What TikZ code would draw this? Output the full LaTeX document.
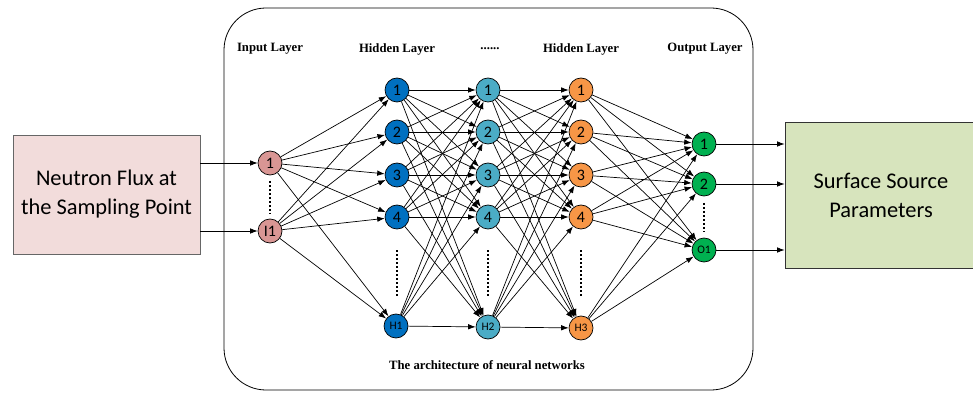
\documentclass[tikz,border=0pt]{standalone}
\usepackage{fontspec}
\setmainfont{Carlito}
\newfontfamily\labfont{Liberation Serif}
\usetikzlibrary{arrows.meta}
\definecolor{cin}{HTML}{D99694}
\definecolor{ch1}{HTML}{0070C0}
\definecolor{ch2}{HTML}{4BACC6}
\definecolor{ch3}{HTML}{F79646}
\definecolor{cout}{HTML}{00B050}
\definecolor{lbox}{HTML}{F2DCDB}
\definecolor{rbox}{HTML}{D7E4BD}
\tikzset{
  neuron/.style={circle,draw=black,line width=0.7pt,minimum size=24pt,inner sep=0pt,font=\fontsize{16}{16}\selectfont},
  smallneuron/.style={neuron,font=\fontsize{11.5}{12}\selectfont},
  conn/.style={-{Latex[length=7.5pt,width=5.5pt]},line width=0.7pt},
  layerlab/.style={font=\labfont\bfseries\fontsize{12.7}{14}\selectfont},
  vdots/.style={line width=1.6pt,dash pattern=on 1.6pt off 2.4pt}
}
\begin{document}
\begin{tikzpicture}[x=1pt,y=-1pt]
\useasboundingbox (0,0) rectangle (973,395);
% container
\draw[line width=0.8pt,rounded corners=42pt] (224,8) rectangle (753,390);
% side boxes
\node[draw=black!60,fill=lbox,line width=0.8pt,minimum width=187pt,minimum height=119pt,inner sep=0pt,align=center,font=\fontsize{22.4}{29}\selectfont] (src) at (106.5,194.5) {Neutron Flux at\\the Sampling Point};
\node[draw=black!80,fill=rbox,line width=0.8pt,minimum width=192pt,minimum height=146pt,inner sep=0pt,align=center,font=\fontsize{22.4}{29}\selectfont] (dst) at (881,195) {Surface Source\\Parameters};
% labels
\node[layerlab] (l1) at (270,49) {Input Layer};
\node[layerlab] (l2) at (397,49) {Hidden Layer};
\node[layerlab] (l3) at (490,49) {......};
\node[layerlab] (l4) at (581,49) {Hidden Layer};
\node[layerlab] (l5) at (705,49) {Output Layer};
\node[layerlab] (cap) at (487,365) {The architecture of neural networks};
% input
\node[neuron,fill=cin] (i1) at (270,163) {1};
\node[neuron,fill=cin] (iN) at (270,231) {I1};
% hidden 1
\foreach \n/\y in {1/90,2/132,3/175,4/217}{
  \node[neuron,fill=ch1] (a\n) at (397,\y) {\n};
  \node[neuron,fill=ch2] (b\n) at (488,\y) {\n};
  \node[neuron,fill=ch3] (c\n) at (581,\y) {\n};
}
\node[smallneuron,fill=ch1] (a5) at (396,326) {H1};
\node[smallneuron,fill=ch2] (b5) at (488,327) {H2};
\node[smallneuron,fill=ch3] (c5) at (581,328) {H3};
% output
\node[neuron,fill=cout] (o1) at (704,144) {1};
\node[neuron,fill=cout] (o2) at (704,184) {2};
\node[smallneuron,fill=cout] (o3) at (704,250) {O1};
% dots
\coordinate (d0a) at (270,181); \coordinate (d0b) at (270,214);
\draw[vdots] (d0a) -- (d0b);
\foreach \x/\nm in {397/p,488/q,581/r}{
  \coordinate (\nm a) at (\x,250); \coordinate (\nm b) at (\x,296);
  \draw[vdots] (\nm a) -- (\nm b);
}
\coordinate (doa) at (704,203); \coordinate (dob) at (704,232);
\draw[vdots] (doa) -- (dob);
% source arrows
\coordinate (s1) at (src.east |- i1);
\coordinate (s2) at (src.east |- iN);
\draw[conn] (s1) -- (i1);
\draw[conn] (s2) -- (iN);
% output arrows
\foreach \o in {o1,o2,o3}{
  \coordinate (t\o) at (dst.west |- \o);
  \draw[conn] (\o) -- (t\o);
}
% connections
\foreach \i in {i1,iN}{
  \foreach \j in {1,...,5}{ \draw[conn] (\i) -- (a\j); }
}
\foreach \i in {1,...,5}{
  \foreach \j in {1,...,5}{
    \draw[conn] (a\i) -- (b\j);
    \draw[conn] (b\i) -- (c\j);
  }
  \foreach \j in {o1,o2,o3}{ \draw[conn] (c\i) -- (\j); }
}
\end{tikzpicture}
\end{document}
